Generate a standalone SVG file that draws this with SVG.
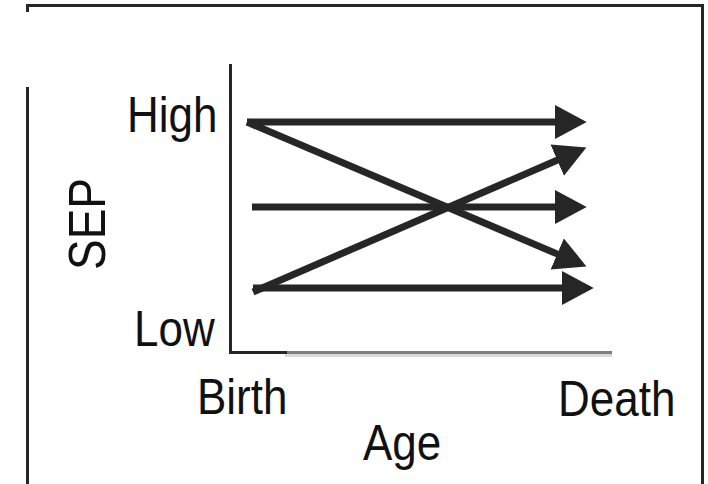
<svg xmlns="http://www.w3.org/2000/svg" width="708" height="484" viewBox="0 0 708 484">
<style>
.frame{stroke:#262626;stroke-width:3;fill:none}
.lbl{font-family:"Liberation Sans",Arial,sans-serif;font-size:44px;fill:#111}
.arr{stroke:#262626;stroke-width:7;fill:none;marker-end:url(#ah)}
</style>
<defs>
<marker id="ah" markerUnits="userSpaceOnUse" markerWidth="34" markerHeight="36" viewBox="0 -17 32 34" refX="1" refY="0" orient="auto">
<path d="M0,-16 L30,0 L0,16 z" fill="#262626"/>
</marker>
</defs>
<rect width="708" height="484" fill="#fff"/>
<g id="frame">
<path class="frame" d="M27.5,12 V5.5 H702.5 V484"/>
<path class="frame" d="M27.5,87 V484"/>
</g>
<g id="axes">
<line x1="230.5" y1="64" x2="230.5" y2="354" stroke="#262626" stroke-width="3"/>
<line x1="229" y1="352.5" x2="288" y2="352.5" stroke="#262626" stroke-width="3"/>
<line x1="287" y1="352.5" x2="612" y2="352.5" stroke="#7f7f7f" stroke-width="3"/>
<line x1="285" y1="355.5" x2="612" y2="355.5" stroke="#d9d9d9" stroke-width="3"/>
</g>
<g id="labels">
<text class="lbl" transform="translate(127,132) scale(1,1.12)">High</text>
<text class="lbl" transform="translate(134,346) scale(1,1.12)">Low</text>
<text class="lbl" transform="translate(197,414) scale(1,1.12)">Birth</text>
<text class="lbl" transform="translate(558,416) scale(1,1.12)">Death</text>
<text class="lbl" transform="translate(363,460) scale(1,1.12)">Age</text>
<text class="lbl" style="font-size:46px" transform="translate(105,270) rotate(-90) scale(1,1.11)">SEP</text>
</g>
<g id="connectors">
<line class="arr" x1="247" y1="122" x2="556" y2="122"/>
<line class="arr" x1="247" y1="122" x2="558.2" y2="254.4"/>
<line class="arr" x1="253" y1="292" x2="558.2" y2="159.7"/>
<line class="arr" x1="252" y1="207" x2="556" y2="207"/>
<line class="arr" x1="253" y1="288" x2="563" y2="288"/>
</g>
</svg>
